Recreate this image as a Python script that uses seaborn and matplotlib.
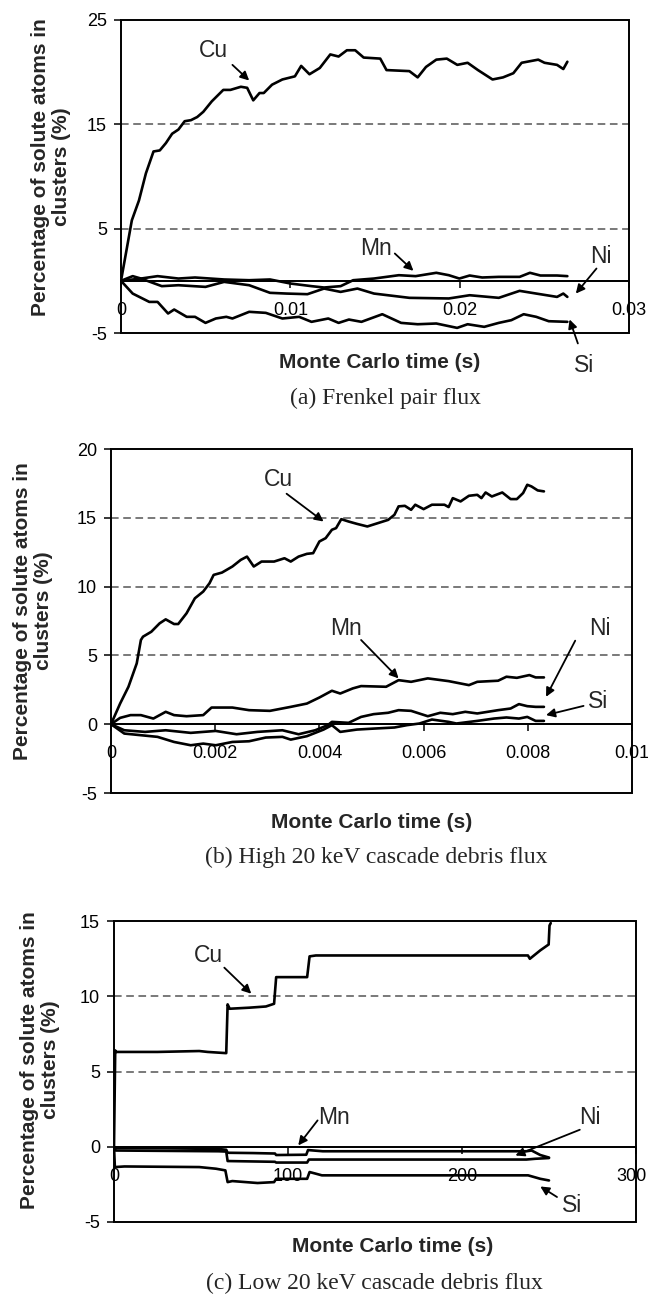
import numpy as np
import pandas as pd
import matplotlib
matplotlib.use("Agg")
import matplotlib.pyplot as plt
import matplotlib.transforms as mtransforms
import seaborn as sns

sns.set_theme(style="white")
plt.rcParams['font.family'] = ['Liberation Sans', 'DejaVu Sans']

# ---------------- data: panel (a) Frenkel pair flux ----------------
a_cu_t = [0, 0.00064, 0.00106, 0.00147, 0.00192, 0.00229, 0.00265, 0.00302, 0.00339, 0.00376,
          0.00413, 0.0045, 0.00486, 0.00536, 0.00604, 0.00646, 0.00708, 0.00745, 0.00781, 0.00818,
          0.00843, 0.00892, 0.00953, 0.01027, 0.01064, 0.01113, 0.01174, 0.01236, 0.01285, 0.01334,
          0.01383, 0.01433, 0.01531, 0.01568, 0.01703, 0.01752, 0.01801, 0.01862, 0.01924, 0.01986,
          0.02047, 0.02108, 0.02194, 0.02256, 0.02317, 0.02366, 0.02464, 0.02501, 0.02575, 0.02612, 0.02636]
a_cu_v = [0, 5.8, 7.7, 10.3, 12.4, 12.5, 13.2, 14.1, 14.5, 15.3,
          15.4, 15.7, 16.2, 17.2, 18.3, 18.3, 18.6, 18.5, 17.3, 18.0,
          18.0, 18.8, 19.3, 19.6, 20.6, 19.8, 20.4, 21.7, 21.5, 22.1,
          22.1, 21.4, 21.3, 20.2, 20.1, 19.5, 20.5, 21.2, 21.3, 20.7,
          20.9, 20.2, 19.3, 19.5, 19.9, 20.9, 21.2, 20.9, 20.7, 20.3, 21.0]
a_mn_t = [0, 0.00069, 0.00118, 0.00216, 0.00339, 0.00437, 0.00609, 0.00757, 0.0088, 0.01002,
          0.01125, 0.01199, 0.01297, 0.01371, 0.01494, 0.01641, 0.0174, 0.01862, 0.01936, 0.01998,
          0.02059, 0.02133, 0.02231, 0.02354, 0.02415, 0.02477, 0.02575, 0.02636]
a_mn_v = [0, 0.45, 0.22, 0.45, 0.22, 0.32, 0.13, 0.06, 0.13, -0.26,
          -0.51, -0.64, -0.51, 0.06, 0.22, 0.54, 0.45, 0.77, 0.54, 0.22,
          0.51, 0.32, 0.38, 0.38, 0.77, 0.51, 0.51, 0.45]
a_ni_t = [0, 0.00118, 0.00241, 0.00339, 0.00499, 0.00609, 0.00757, 0.0088, 0.00978, 0.01101,
          0.01199, 0.01297, 0.01396, 0.01494, 0.01703, 0.01936, 0.02059, 0.02231, 0.02354, 0.02452,
          0.02575, 0.02612, 0.02636]
a_ni_v = [0, 0.22, -0.51, -0.42, -0.58, -0.10, -0.42, -1.15, -1.22, -1.28,
          -0.74, -1.06, -0.74, -1.22, -1.63, -1.69, -1.38, -1.63, -0.96, -1.22,
          -1.54, -1.22, -1.54]
a_si_t = [0, 0.00069, 0.00167, 0.00216, 0.00278, 0.00314, 0.00388, 0.00437, 0.00499, 0.0056,
          0.00622, 0.00658, 0.00757, 0.00855, 0.00953, 0.01052, 0.01125, 0.01224, 0.01285, 0.01346,
          0.0142, 0.01543, 0.01654, 0.01752, 0.01862, 0.01985, 0.02047, 0.02145, 0.02231, 0.02305,
          0.02378, 0.02452, 0.02526, 0.02636]
a_si_v = [0, -1.22, -2.02, -2.02, -3.13, -2.75, -3.45, -3.45, -4.03, -3.61,
          -3.45, -3.61, -2.97, -3.07, -3.61, -3.45, -3.93, -3.61, -4.03, -3.71,
          -3.93, -3.20, -4.03, -4.16, -4.09, -4.51, -4.16, -4.41, -4.03, -3.77,
          -3.20, -3.45, -3.87, -3.93]

# ---------------- data: panel (b) High 20 keV cascade debris flux ----------------
b_cu_t = [0, 0.000175, 0.000335, 0.000494, 0.000574, 0.000614, 0.000774, 0.000933, 0.00105, 0.00121,
          0.00129, 0.00145, 0.00161, 0.00177, 0.00189, 0.00197, 0.00213, 0.00233, 0.00249, 0.00261,
          0.00274, 0.00289, 0.00313, 0.00333, 0.00345, 0.0036, 0.00376, 0.00388, 0.004, 0.00412,
          0.00424, 0.00432, 0.00442, 0.00456, 0.00472, 0.00492, 0.00512, 0.00532, 0.00544, 0.00552,
          0.00564, 0.00576, 0.00584, 0.006, 0.00616, 0.0064, 0.00648, 0.00656, 0.00671, 0.00687,
          0.00703, 0.00711, 0.00719, 0.00731, 0.00751, 0.00767, 0.00779, 0.00791, 0.00799, 0.00807,
          0.00819, 0.00831]
b_cu_v = [0, 1.5, 2.72, 4.42, 6.12, 6.36, 6.72, 7.33, 7.62, 7.28,
          7.28, 8.06, 9.15, 9.64, 10.24, 10.85, 11.02, 11.46, 11.94, 12.18,
          11.46, 11.82, 11.82, 12.06, 11.82, 12.18, 12.38, 12.43, 13.28, 13.52,
          14.13, 14.25, 14.9, 14.73, 14.56, 14.37, 14.61, 14.85, 15.22, 15.83,
          15.87, 15.58, 15.95, 15.63, 15.95, 15.95, 15.78, 16.43, 16.19, 16.6,
          16.67, 16.43, 16.84, 16.55, 16.84, 16.36, 16.36, 16.8, 17.4, 17.28,
          16.99, 16.92]
b_mn_t = [0, 0.000175, 0.000375, 0.000574, 0.000813, 0.00105, 0.00121, 0.00145, 0.00177, 0.00193,
          0.00233, 0.00265, 0.00305, 0.00345, 0.00376, 0.004, 0.00424, 0.0044, 0.00464, 0.0048,
          0.00528, 0.00552, 0.00576, 0.00608, 0.00648, 0.00687, 0.00703, 0.00743, 0.00759, 0.00779,
          0.00803, 0.00815, 0.00831]
b_mn_v = [0, 0.46, 0.66, 0.66, 0.41, 0.9, 0.66, 0.58, 0.66, 1.21,
          1.21, 1.02, 0.97, 1.26, 1.5, 1.94, 2.43, 2.23, 2.6, 2.77,
          2.72, 3.2, 3.08, 3.33, 3.13, 2.84, 3.08, 3.16, 3.45, 3.37,
          3.57, 3.4, 3.4]
b_ni_t = [0, 0.000255, 0.000654, 0.00105, 0.00153, 0.00201, 0.00241, 0.00281, 0.00329, 0.0036,
          0.00392, 0.00416, 0.00424, 0.00456, 0.0048, 0.00504, 0.00532, 0.00552, 0.00576, 0.00608,
          0.00632, 0.00656, 0.0068, 0.00703, 0.00743, 0.00767, 0.00783, 0.00799, 0.00815, 0.00831]
b_ni_v = [0, -0.44, -0.56, -0.44, -0.63, -0.49, -0.73, -0.56, -0.44, -0.73,
          -0.44, -0.07, 0.17, 0.10, 0.53, 0.73, 0.83, 1.02, 0.97, 0.58,
          0.83, 0.73, 0.90, 0.78, 1.02, 1.14, 1.46, 1.31, 1.26, 1.26]
b_si_t = [0, 0.000255, 0.000574, 0.000893, 0.00121, 0.00153, 0.00177, 0.00201, 0.00233, 0.00265,
          0.00297, 0.00329, 0.00345, 0.00376, 0.00408, 0.00424, 0.0044, 0.00472, 0.00504, 0.00544,
          0.00568, 0.00592, 0.00616, 0.00648, 0.00663, 0.00703, 0.00735, 0.00759, 0.00783, 0.00799,
          0.00815, 0.00831]
b_si_v = [0, -0.68, -0.80, -0.92, -1.29, -1.53, -1.41, -1.53, -1.29, -1.24,
          -0.97, -0.92, -1.12, -0.87, -0.39, -0.07, -0.56, -0.39, -0.32, -0.24,
          -0.07, 0.05, 0.34, 0.17, 0.05, 0.24, 0.41, 0.49, 0.41, 0.53,
          0.24, 0.24]

# ---------------- data: panel (c) Low 20 keV cascade debris flux ----------------
c_cu_t = [0, 0.7, 1.2, 25, 49, 53.8, 64.5, 65.3, 66.5, 77.7, 87.3, 92, 93.2, 111, 112.4, 116,
          237.9, 239, 245, 249.8, 250.3, 251]
c_cu_v = [0, 6.4, 6.3, 6.3, 6.36, 6.3, 6.22, 9.46, 9.17, 9.24, 9.32, 9.5, 11.27, 11.27, 12.65, 12.71,
          12.71, 12.49, 13.05, 13.44, 14.7, 14.86]
c_mn_t = [0, 1, 30, 60, 64.5, 65.3, 80, 92.5, 93.2, 110.5, 111.5, 120, 200, 237, 240, 245, 250]
c_mn_v = [0, -0.08, -0.10, -0.15, -0.20, -0.40, -0.42, -0.45, -0.55, -0.53, -0.22, -0.30, -0.30,
          -0.30, -0.25, -0.55, -0.72]
c_ni_t = [0, 1, 60, 64.5, 65.3, 92.5, 93.2, 111, 112, 237, 242, 250]
c_ni_v = [0, -0.25, -0.30, -0.32, -0.95, -1.00, -1.05, -1.05, -0.85, -0.85, -0.80, -0.75]
c_si_t = [0, 0.5, 6, 49, 58.6, 64, 65.3, 68, 82.5, 92, 93.2, 111, 112.4, 116, 119.5, 238, 245, 250]
c_si_v = [0, -1.35, -1.31, -1.35, -1.46, -1.57, -2.35, -2.28, -2.41, -2.35, -2.13, -2.13, -1.68,
          -1.79, -1.90, -1.90, -2.13, -2.24]

# ---------------- axes settings ----------------
a_yticks = [-5, 5, 15, 25]
b_yticks = [-5, 0, 5, 10, 15, 20]
c_yticks = [-5, 0, 5, 10, 15]
a_grid = [5, 15]
b_grid = [5, 10, 15]
c_grid = [5, 10]
a_xticks = [0, 0.01, 0.02, 0.03]
a_xticklabels = ["0", "0.01", "0.02", "0.03"]
b_xticks = [0, 0.002, 0.004, 0.006, 0.008, 0.01]
b_xticklabels = ["0", "0.002", "0.004", "0.006", "0.008", "0.01"]
c_xticks = [0, 100, 200, 300]
c_xticklabels = ["0", "100", "200", "300"]

labels = ["Cu", "Mn", "Ni", "Si"]
# annotation label positions, arrow tails and heads (data coords)
a_ann = [((0.00548, 22.1), (0.00658, 20.7), (0.00757, 19.2)),
         ((0.01506, 3.1), (0.01617, 2.62), (0.01727, 0.96)),
         ((0.02833, 2.3), (0.02808, 1.18), (0.02686, -1.22)),
         ((0.02735, -8.1), (0.02698, -6.0), (0.02649, -3.7))]
b_ann = [((0.00322, 17.77), (0.00337, 16.75), (0.00408, 14.73)),
         ((0.00452, 6.97), (0.0048, 6.12), (0.00552, 3.33)),
         ((0.00939, 6.97), (0.00891, 6.07), (0.00835, 1.99)),
         ((0.00935, 1.63), (0.00907, 1.33), (0.00835, 0.66))]
c_ann = [((54.3, 12.7), (63.4, 11.9), (78.9, 10.17)),
         ((126.7, 1.97), (117, 1.75), (105.9, 0.09)),
         ((273.7, 1.97), (267.7, 1.13), (230.7, -0.58)),
         ((263, -3.9), (254.6, -3.34), (245, -2.64))]

YLABEL = "Percentage of solute atoms in\nclusters (%)"
XLABEL = "Monte Carlo time (s)"

W, H = 648, 1295
fig = plt.figure(figsize=(W / 100, H / 100), dpi=100)


def px_rect(left, right, top, bottom):
    return [left / W, 1 - bottom / H, (right - left) / W, (bottom - top) / H]


def make_panel(rect, series, xlim, ylim, xticks, xticklabels, yticks, grid, ann,
               ylab_xy, xlab_xy, caption, cap_xy, last_shift=0):
    ax = fig.add_axes(rect)
    for name, (t, v) in series.items():
        df = pd.DataFrame({"t": t, "v": v})
        sns.lineplot(data=df, x="t", y="v", ax=ax, color="black", linewidth=1.9,
                     estimator=None, sort=False, legend=False, zorder=4)
    ax.set_xlim(*xlim)
    ax.set_ylim(*ylim)
    for g in grid:
        ax.axhline(g, color="#555555", lw=1.1, ls=(0, (5, 3)), zorder=1)
    ax.axhline(0, color="black", lw=1.3, zorder=2)
    ax.set_xlabel("")
    ax.set_ylabel("")
    for s in ["top", "right", "left"]:
        ax.spines[s].set_visible(False)
    ax.spines["bottom"].set_position(("data", 0))
    ax.spines["bottom"].set_color("black")
    ax.spines["bottom"].set_linewidth(1.3)
    ax.add_patch(plt.Rectangle((0, 0), 1, 1, transform=ax.transAxes, fill=False,
                               ec="black", lw=1.4, zorder=5, clip_on=False))
    ax.set_xticks(xticks)
    ax.set_xticklabels(xticklabels)
    ax.set_yticks(yticks)
    ax.set_yticklabels([str(y) for y in yticks])
    ax.tick_params(axis="x", bottom=True, direction="out", length=5, width=1.1,
                   color="black", pad=10, labelsize=13, labelcolor="black")
    ax.tick_params(axis="y", left=True, direction="out", length=5, width=1.1,
                   color="black", pad=5, labelsize=13, labelcolor="black")
    if last_shift:
        lab = ax.get_xticklabels()[-1]
        lab.set_transform(lab.get_transform() +
                          mtransforms.ScaledTranslation(last_shift / 100, 0, fig.dpi_scale_trans))
    for lab, ((tx, ty), tail, head) in zip(labels, ann):
        ax.text(tx, ty, lab, fontsize=16.5, ha="center", va="center", clip_on=False)
        ax.annotate("", xy=head, xytext=tail, annotation_clip=False,
                    arrowprops=dict(arrowstyle="-|>", color="black", lw=1.3,
                                    mutation_scale=13, shrinkA=0, shrinkB=0))
    fig.text(ylab_xy[0] / W, 1 - ylab_xy[1] / H, YLABEL, rotation=90, ha="center",
             va="center", fontsize=15, fontweight="bold", linespacing=1.15,
             multialignment="center")
    fig.text(xlab_xy[0] / W, 1 - xlab_xy[1] / H, XLABEL, ha="center", va="center",
             fontsize=15, fontweight="bold")
    fig.text(cap_xy[0] / W, 1 - cap_xy[1] / H, caption, ha="center", va="center",
             fontsize=17, family=["Liberation Serif", "DejaVu Serif"])
    return ax


make_panel(px_rect(121, 629, 20, 333),
           {"Cu": (a_cu_t, a_cu_v), "Mn": (a_mn_t, a_mn_v), "Ni": (a_ni_t, a_ni_v), "Si": (a_si_t, a_si_v)},
           (0, 0.03), (-5, 25), a_xticks, a_xticklabels, a_yticks, a_grid, a_ann,
           (51, 167), (380, 362), "(a) Frenkel pair flux", (385, 398))

make_panel(px_rect(111, 632, 449, 793),
           {"Cu": (b_cu_t, b_cu_v), "Mn": (b_mn_t, b_mn_v), "Ni": (b_ni_t, b_ni_v), "Si": (b_si_t, b_si_v)},
           (0, 0.01), (-5, 20), b_xticks, b_xticklabels, b_yticks, b_grid, b_ann,
           (33, 611), (372, 822), "(b) High 20 keV cascade debris flux", (376, 857))

make_panel(px_rect(114, 636, 921, 1222),
           {"Cu": (c_cu_t, c_cu_v), "Mn": (c_mn_t, c_mn_v), "Ni": (c_ni_t, c_ni_v), "Si": (c_si_t, c_si_v)},
           (0, 300), (-5, 15), c_xticks, c_xticklabels, c_yticks, c_grid, c_ann,
           (40, 1060), (393, 1247), "(c) Low 20 keV cascade debris flux", (374, 1283),
           last_shift=-5)

fig.savefig("out.png", dpi=100, facecolor="white")
